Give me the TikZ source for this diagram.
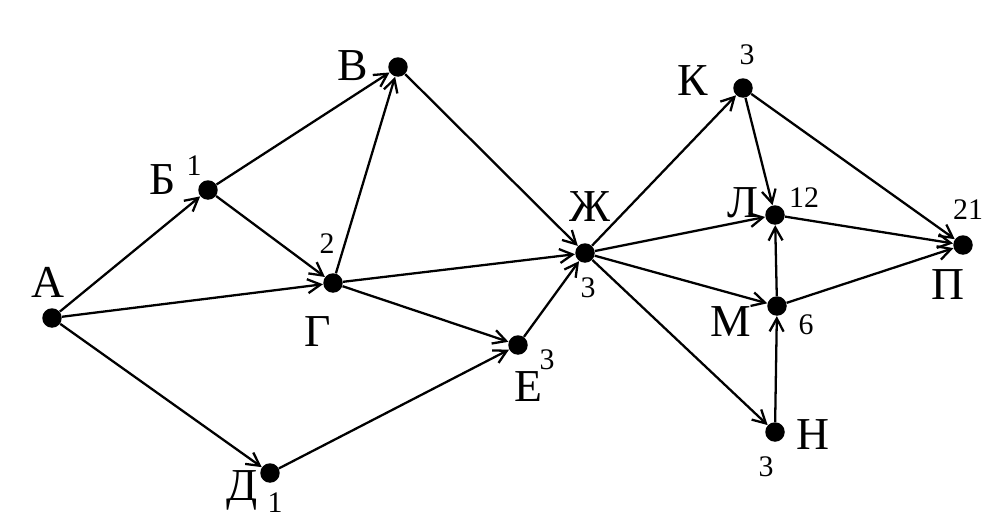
\documentclass[tikz,border=0pt]{standalone}
\usepackage{fontspec}
\setmainfont{Liberation Serif}
\usepackage{tikz}
\usetikzlibrary{arrows.meta}
\tikzset{
  pt/.style  ={circle, fill=black, inner sep=0pt, minimum size=3.9mm},
  lbl/.style ={font=\fontsize{26}{26}\selectfont, inner sep=0pt},
  wt/.style  ={font=\fontsize{17}{17}\selectfont, inner sep=0pt},
  flow/.style={-{Straight Barb[length=2.6mm,width=2.8mm]}, line width=1.3pt},
}

\begin{document}
\begin{tikzpicture}[x=0.02cm, y=-0.02cm]
  \useasboundingbox (0,0) rectangle (992,531);
  % vertices
  \node[pt](a) at (52,318){};
  \node[pt](b) at (208,190){};
  \node[pt](v) at (398,67){};
  \node[pt](g) at (333,283){};
  \node[pt](d) at (270,473){};
  \node[pt](e) at (518,345){};
  \node[pt](zh) at (585,253){};
  \node[pt](k) at (743,88){};
  \node[pt](l) at (775,215){};
  \node[pt](m) at (777,306){};
  \node[pt](n) at (775,432){};
  \node[pt](p) at (963,245){};
  % letters
  \node[lbl](la) at (48,282){А};
  \node[lbl](lb) at (163,180){Б};
  \node[lbl](lv) at (353,66){В};
  \node[lbl](lg) at (318,332){Г};
  \node[lbl](ld) at (242,490){Д};
  \node[lbl](le) at (528,387){Е};
  \node[lbl](lzh) at (590,207){Ж};
  \node[lbl](lk) at (693,81){К};
  \node[lbl](ll) at (743,203){Л};
  \node[lbl](lm) at (731,322){М};
  \node[lbl](ln) at (813,435){Н};
  \node[lbl](lp) at (948,285){П};
  % numbers
  \node[wt](wb) at (194,166){1};
  \node[wt](wg) at (327,244){2};
  \node[wt](wd) at (275,503){1};
  \node[wt](we) at (547,360){3};
  \node[wt](wzh) at (588,288){3};
  \node[wt](wk) at (747,55){3};
  \node[wt](wl) at (804,198){12};
  \node[wt](wm) at (806,325){6};
  \node[wt](wn) at (766,467){3};
  \node[wt](wp) at (968,210){21};
  % edges
  \draw[flow](a)--(b);
  \draw[flow](a)--(g);
  \draw[flow](a)--(d);
  \draw[flow](b)--(v);
  \draw[flow](b)--(g);
  \draw[flow](g)--(v);
  \draw[flow](g)--(zh);
  \draw[flow](g)--(e);
  \draw[flow](d)--(e);
  \draw[flow](e)--(zh);
  \draw[flow](v)--(zh);
  \draw[flow](zh)--(k);
  \draw[flow](zh)--(l);
  \draw[flow](zh)--(m);
  \draw[flow](zh)--(n);
  \draw[flow](k)--(l);
  \draw[flow](k)--(p);
  \draw[flow](l)--(p);
  \draw[flow](m)--(l);
  \draw[flow](m)--(p);
  \draw[flow](n)--(m);
\end{tikzpicture}
\end{document}
